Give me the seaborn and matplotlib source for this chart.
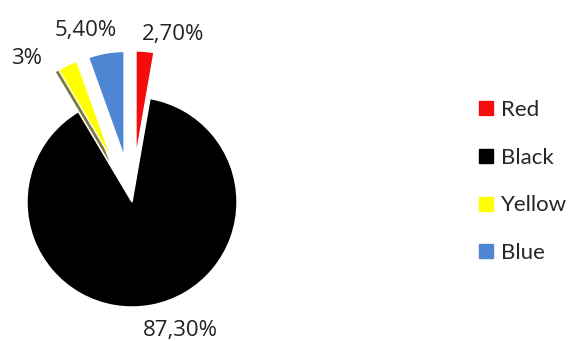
import numpy as np
import matplotlib
matplotlib.use("Agg")
import matplotlib.pyplot as plt
from matplotlib.lines import Line2D
from matplotlib import patheffects
import seaborn as sns

# Share of each colour
categories = ["Red", "Black", "Yellow", "Blue"]
shares = [2.7, 87.3, 3.0, 5.4]
colors = ["#f50d0d", "#000000", "#ffff00", "#4f86d4"]
explode = [0.44, 0.0, 0.44, 0.44]


def pct_label(v):
    if float(v).is_integer():
        return f"{int(v)}%"
    return f"{v:.2f}%".replace(".", ",")


sns.set_theme(style="white")
plt.rcParams["font.family"] = ["Open Sans", "DejaVu Sans"]

W, H, DPI = 574, 341, 100
fig = plt.figure(figsize=(W / DPI, H / DPI), dpi=DPI)
fig.patch.set_facecolor("white")

# pie axes: centre at (132, 202) px from top-left, radius 105 px
R = 105.0
cx, cy = 132.0, 202.0
ax_w = 2 * cx
ax = fig.add_axes([0, 0, ax_w / W, 1.0])
ax.set_facecolor("white")

wedges, _ = ax.pie(
    shares,
    colors=colors,
    explode=explode,
    startangle=90,
    counterclock=False,
    wedgeprops=dict(edgecolor="white", linewidth=1.0),
)

# subtle drop shadow on the yellow slice
wedges[2].set_path_effects([
    patheffects.SimplePatchShadow(offset=(-2, -1.5), shadow_rgbFace="#5a5a10", alpha=0.8),
    patheffects.Normal(),
])

ax.set_xlim(-cx / R, cx / R)
ax.set_ylim(-(H - cy) / R, cy / R)
ax.set_aspect("equal", adjustable="datalim")
ax.axis("off")

# value labels around each slice
nudges = [-12, 10, 15, 7]
dists = [1.21, 1.31, 1.27, 1.25]
for w, v, nd, d in zip(wedges, shares, nudges, dists):
    th = np.deg2rad((w.theta1 + w.theta2) / 2 + nd)
    x0, y0 = w.center
    ax.text(x0 + d * np.cos(th), y0 + d * np.sin(th), pct_label(v),
            ha="center", va="center", fontsize=16, color="#222222")

handles = [Line2D([], [], marker="s", linestyle="", markersize=10,
                  markerfacecolor=c, markeredgecolor=c) for c in colors]
fig.legend(handles, categories, loc="center left",
           bbox_to_anchor=(0.797, 0.468), frameon=False,
           labelspacing=1.25, handlelength=0.8, handletextpad=0.25,
           prop={"family": ["Lato", "DejaVu Sans"], "size": 16})

fig.savefig("out.png", dpi=DPI, facecolor="white")
